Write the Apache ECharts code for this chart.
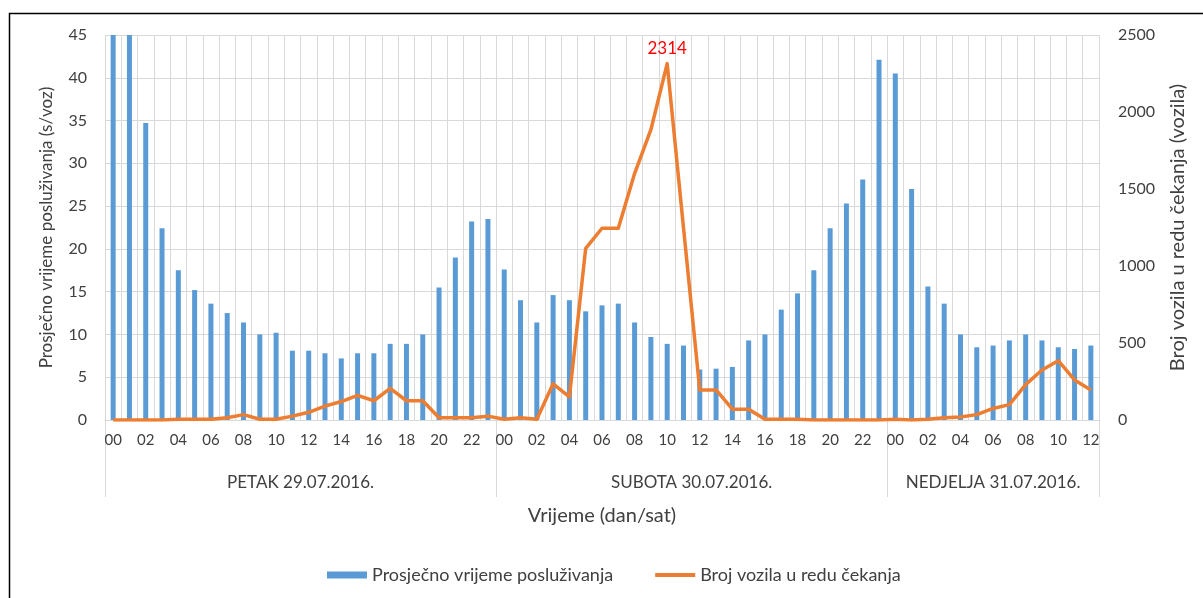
<!DOCTYPE html>
<html>
<head>
<meta charset="utf-8">
<title>Vrijeme posluživanja i red čekanja</title>
<script src="https://cdn.jsdelivr.net/npm/echarts@6/dist/echarts.min.js"></script>
<style>
  html, body { margin: 0; padding: 0; background: #fff; }
  #chart { width: 1203px; height: 598px; }
</style>
</head>
<body>
<div id="chart"></div>
<script>
// Days shown on the time axis and the number of hourly slots in each
const dayLabels = ['PETAK 29.07.2016.', 'SUBOTA 30.07.2016.', 'NEDJELJA 31.07.2016.'];
const dayHours = [24, 24, 13];

// Average service time per hour (s/voz)
const serviceTime = [
  // Friday 00-23
  52, 50, 34.7, 22.4, 17.5, 15.2, 13.6, 12.5, 11.4, 10.0, 10.2, 8.1,
  8.1, 7.8, 7.2, 7.8, 7.8, 8.9, 8.9, 10.0, 15.5, 19.0, 23.2, 23.5,
  // Saturday 00-23
  17.6, 14.0, 11.4, 14.6, 14.0, 12.7, 13.4, 13.6, 11.4, 9.7, 8.9, 8.7,
  5.9, 6.0, 6.2, 9.3, 10.0, 12.9, 14.8, 17.5, 22.4, 25.3, 28.1, 42.1,
  // Sunday 00-12
  40.5, 27.0, 15.6, 13.6, 10.0, 8.5, 8.7, 9.3, 10.0, 9.3, 8.5, 8.3, 8.7
];

// Vehicles waiting in the queue per hour
const queueLength = [
  // Friday 00-23
  0, 0, 0, 0, 5, 5, 5, 15, 35, 5, 5, 25,
  50, 90, 120, 160, 125, 205, 125, 125, 15, 15, 15, 25,
  // Saturday 00-23
  5, 15, 5, 235, 150, 1115, 1245, 1245, 1600, 1885, 2314, 1250,
  195, 195, 70, 70, 5, 5, 5, 0, 0, 0, 0, 0,
  // Sunday 00-12
  5, 0, 5, 15, 20, 35, 75, 100, 230, 325, 385, 260, 195
];

const leftTicks = { min: 0, max: 45, interval: 5 };
const rightTicks = { min: 0, max: 2500, interval: 500 };

const seriesNames = ['Prosječno vrijeme posluživanja', 'Broj vozila u redu čekanja'];

// Hour labels for every slot, day after day
const hourLabels = [];
dayHours.forEach(n => {
  for (let h = 0; h < n; h++) hourLabels.push(String(h).padStart(2, '0'));
});

// Day boundaries and day centres along the slot scale
const dayBounds = [0];
dayHours.forEach(n => dayBounds.push(dayBounds[dayBounds.length - 1] + n));
const dayCentres = dayHours.map((n, i) => dayBounds[i] + n / 2);
const totalSlots = dayBounds[dayBounds.length - 1];

// Mark the highest queue value with its number
const peakIdx = queueLength.indexOf(Math.max(...queueLength));
const queueData = queueLength.map((v, i) => i === peakIdx ? {
  value: v,
  label: { show: true, position: 'top', distance: 7, color: '#ff0000', fontSize: 17, fontFamily: 'Lato, sans-serif' }
} : v);

const FONT = 'Lato, "Open Sans", sans-serif';
const TXT = '#404040';
const GRID = '#d9d9d9';

const chart = echarts.init(document.getElementById('chart'), null, { renderer: 'canvas' });

chart.setOption({
  animation: false,
  backgroundColor: '#ffffff',
  textStyle: { fontFamily: FONT, color: TXT },
  graphic: [{
    type: 'rect',
    left: 7, top: 11,
    shape: { width: 1210, height: 610 },
    style: { fill: 'none', stroke: '#000000', lineWidth: 1.5 },
    silent: true
  }],
  grid: { left: 105, right: 104, top: 35, bottom: 178 },
  legend: {
    left: 322, top: 561,
    itemWidth: 40, itemHeight: 7, itemGap: 42,
    textStyle: { fontFamily: FONT, fontSize: 18, color: TXT },
    data: [
      { name: seriesNames[0], icon: 'rect' },
      { name: seriesNames[1], icon: 'path://M0,0H40V4H0Z' }
    ]
  },
  xAxis: [{
    type: 'category',
    data: hourLabels,
    boundaryGap: true,
    axisLine: { show: true, lineStyle: { color: GRID } },
    axisTick: { show: false },
    axisLabel: { interval: 1, margin: 13, fontFamily: FONT, fontSize: 15, color: TXT },
    splitLine: { show: true, interval: 0, lineStyle: { color: GRID, width: 1 } }
  }, {
    type: 'value',
    position: 'bottom',
    min: 0, max: totalSlots,
    axisLine: { show: false },
    splitLine: { show: false },
    axisTick: { show: true, customValues: dayBounds, length: 77, lineStyle: { color: GRID } },
    axisLabel: {
      customValues: dayCentres,
      margin: 54,
      fontFamily: FONT, fontSize: 17, color: TXT,
      formatter: v => dayLabels[dayCentres.indexOf(v)] || ''
    },
    name: 'Vrijeme (dan/sat)',
    nameLocation: 'middle',
    nameGap: 86,
    nameTextStyle: { fontFamily: FONT, fontSize: 20, color: TXT }
  }],
  yAxis: [{
    type: 'value',
    min: leftTicks.min, max: leftTicks.max, interval: leftTicks.interval,
    axisLine: { show: false },
    axisTick: { show: false },
    axisLabel: { margin: 18, fontFamily: FONT, fontSize: 16, color: TXT },
    splitLine: { show: true, lineStyle: { color: GRID, width: 1 } },
    name: 'Prosječno vrijeme posluživanja (s/voz)',
    nameLocation: 'middle',
    nameGap: 50,
    nameTextStyle: { fontFamily: FONT, fontSize: 17, color: TXT }
  }, {
    type: 'value',
    position: 'right',
    min: rightTicks.min, max: rightTicks.max, interval: rightTicks.interval,
    axisLine: { show: false },
    axisTick: { show: false },
    axisLabel: { margin: 19, fontFamily: FONT, fontSize: 16, color: TXT, formatter: v => String(v) },
    splitLine: { show: false },
    name: 'Broj vozila u redu čekanja (vozila)',
    nameLocation: 'middle',
    nameGap: 69,
    nameTextStyle: { fontFamily: FONT, fontSize: 20, color: TXT }
  }],
  series: [{
    name: seriesNames[0],
    type: 'bar',
    xAxisIndex: 0,
    yAxisIndex: 0,
    data: serviceTime,
    barWidth: 5,
    clip: true,
    itemStyle: { color: '#5b9bd5' }
  }, {
    name: seriesNames[1],
    type: 'line',
    xAxisIndex: 0,
    yAxisIndex: 1,
    data: queueData,
    symbol: 'circle',
    symbolSize: 0,
    showSymbol: true,
    lineStyle: { color: '#ed7d31', width: 3.5, join: 'round' },
    itemStyle: { color: '#ed7d31' }
  }]
});
</script>
</body>
</html>
